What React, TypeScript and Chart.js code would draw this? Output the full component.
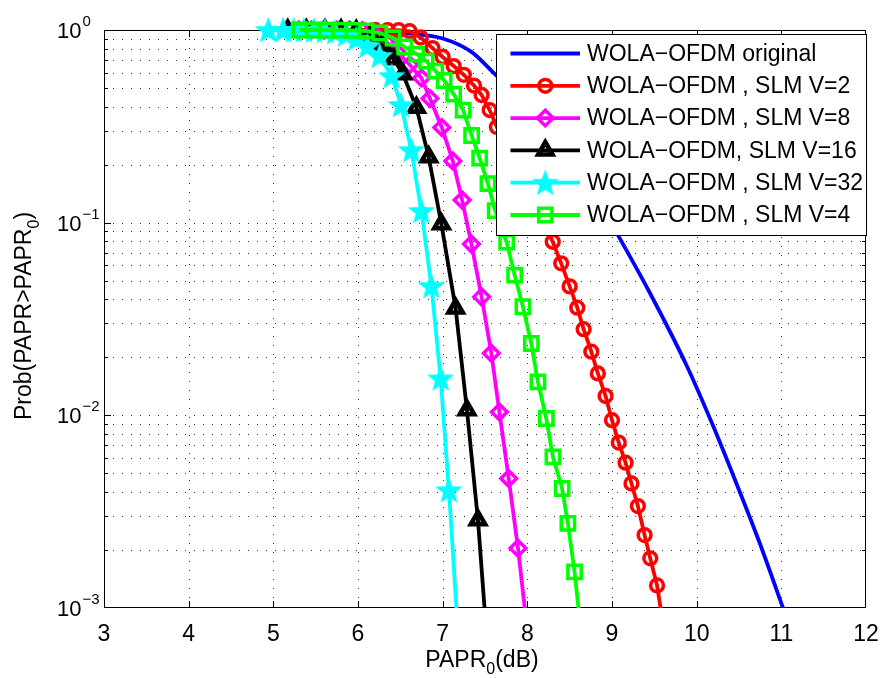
import React, { useEffect, useRef } from 'react';
import { Chart, registerables } from 'chart.js';

Chart.register(...registerables);

const FONT = "'Liberation Sans', Arial, Helvetica, sans-serif";

// ---------- axis ticks ----------
const X_TICKS = [3, 4, 5, 6, 7, 8, 9, 10, 11, 12];
const Y_TICKS = [1, 0.1, 0.01, 0.001];
const Y_TICK_EXP = ['0', '\u22121', '\u22122', '\u22123'];

// ---------- legend labels ----------
const LEGEND_LABELS = [
  'WOLA\u2212OFDM original',
  'WOLA\u2212OFDM , SLM V=2',
  'WOLA\u2212OFDM , SLM V=8',
  'WOLA\u2212OFDM, SLM V=16',
  'WOLA\u2212OFDM , SLM V=32',
  'WOLA\u2212OFDM , SLM V=4',
];

// ---------- series data (PAPR0 in dB, CCDF) ----------
const origX = [5.2, 5.6, 6.0, 6.49, 6.61, 7.0, 7.34, 7.59, 7.8, 8.0, 8.2, 8.4, 8.6, 8.8, 9.07, 9.44, 9.88, 10.19, 10.43, 10.74, 11.02, 11.2];
const origY = [1, 1, 0.99, 0.965, 0.957, 0.904, 0.77, 0.606, 0.49, 0.389, 0.305, 0.237, 0.182, 0.138, 0.0862, 0.0438, 0.0182, 0.0089, 0.0049, 0.0022, 0.001, 0.0006];

const v2X = [5.3, 5.45, 5.6, 5.75, 5.9, 6.05, 6.2, 6.35, 6.48, 6.61, 6.74, 6.88, 7.0, 7.13, 7.25, 7.37, 7.46, 7.555, 7.64, 7.73, 7.82, 7.91, 8.0, 8.09, 8.2, 8.3, 8.4, 8.5, 8.59, 8.665, 8.756, 8.833, 8.924, 9.0, 9.08, 9.16, 9.23, 9.306, 9.385, 9.452, 9.532, 9.61];
const v2Y = [1, 1, 1, 1, 1, 1, 1, 0.999, 0.997, 0.985, 0.914, 0.806, 0.724, 0.65, 0.585, 0.515, 0.46, 0.384, 0.314, 0.263, 0.219, 0.182, 0.151, 0.126, 0.1, 0.0796, 0.0615, 0.0467, 0.0362, 0.028, 0.0214, 0.0165, 0.0126, 0.00944, 0.00722, 0.00568, 0.00443, 0.00338, 0.00239, 0.00181, 0.00131, 0.00079];

const v8X = [5.3, 5.45, 5.6, 5.75, 5.9, 6.05, 6.19, 6.33, 6.47, 6.61, 6.75, 6.85, 6.99, 7.12, 7.23, 7.34, 7.46, 7.575, 7.67, 7.78, 7.89, 8.0];
const v8Y = [1, 1, 1, 1, 0.999, 0.99, 0.95, 0.87, 0.76, 0.66, 0.563, 0.441, 0.312, 0.209, 0.131, 0.0774, 0.0412, 0.021, 0.0104, 0.0047, 0.00204, 0.00076];

const v16X = [5.17, 5.39, 5.61, 5.8, 5.98, 6.15, 6.29, 6.42, 6.53, 6.69, 6.835, 6.985, 7.153, 7.287, 7.417, 7.54];
const v16Y = [1, 1, 1, 0.999, 0.99, 0.94, 0.836, 0.707, 0.591, 0.396, 0.219, 0.0983, 0.0359, 0.01064, 0.00286, 0.00054];

const v32X = [4.94, 5.115, 5.24, 5.36, 5.48, 5.61, 5.73, 5.86, 5.98, 6.11, 6.256, 6.398, 6.508, 6.63, 6.749, 6.867, 6.976, 7.074, 7.19];
const v32Y = [1, 1, 1, 0.999, 0.997, 0.99, 0.975, 0.95, 0.9, 0.826, 0.733, 0.577, 0.408, 0.238, 0.115, 0.0469, 0.01556, 0.00409, 0.00065];

const v4X = [5.313, 5.469, 5.627, 5.784, 5.941, 6.099, 6.256, 6.413, 6.551, 6.693, 6.805, 6.917, 7.018, 7.13, 7.242, 7.342, 7.437, 7.535, 7.62, 7.756, 7.85, 7.948, 8.047, 8.125, 8.224, 8.302, 8.411, 8.479, 8.558, 8.64];
const v4Y = [1, 1, 0.999, 0.998, 0.995, 0.988, 0.965, 0.909, 0.816, 0.75, 0.69, 0.612, 0.547, 0.465, 0.384, 0.2834, 0.2164, 0.1596, 0.1155, 0.0793, 0.0534, 0.0366, 0.0236, 0.01493, 0.00963, 0.00609, 0.00417, 0.00275, 0.00154, 0.00072];

// ---------- styles ----------
const LINE_W = 3.8;
const MARK_BW: Record<string, number> = { circle: 3.5, rectRot: 3.5, triangle: 4.6, rect: 3.5, star: 0 };
const COLORS = ['#0000ff', '#ff0000', '#ff00ff', '#000000', '#00ffff', '#00ff00'];
const MARKERS = ['none', 'circle', 'rectRot', 'triangle', 'star', 'rect'];
const MARK_R: Record<string, number> = { circle: 6.4, rectRot: 7.8, triangle: 8.2, rect: 9.4, star: 11 };

const pts = (xs: number[], ys: number[]) => xs.map((x, i) => ({ x, y: ys[i] }));

function makeStar(color: string) {
  const c = document.createElement('canvas');
  c.width = 28;
  c.height = 28;
  const g = c.getContext('2d')!;
  g.fillStyle = color;
  g.strokeStyle = color;
  g.lineWidth = 1.6;
  g.lineJoin = 'miter';
  g.beginPath();
  const R = 12, r = R * 0.42;
  for (let i = 0; i < 10; i++) {
    const ang = -Math.PI / 2 + (i * Math.PI) / 5;
    const rad = i % 2 === 0 ? R : r;
    const px = 14 + rad * Math.cos(ang);
    const py = 15 + rad * Math.sin(ang);
    if (i === 0) g.moveTo(px, py);
    else g.lineTo(px, py);
  }
  g.closePath();
  g.fill();
  g.stroke();
  return c;
}

function drawMarker(ctx: CanvasRenderingContext2D, kind: string, x: number, y: number, color: string, star: HTMLCanvasElement) {
  ctx.save();
  ctx.setLineDash([]);
  ctx.strokeStyle = color;
  ctx.lineWidth = MARK_BW[kind];
  ctx.beginPath();
  if (kind === 'circle') {
    ctx.arc(x, y, MARK_R.circle, 0, Math.PI * 2);
    ctx.stroke();
  } else if (kind === 'rectRot') {
    const r = MARK_R.rectRot;
    ctx.moveTo(x - r, y);
    ctx.lineTo(x, y - r);
    ctx.lineTo(x + r, y);
    ctx.lineTo(x, y + r);
    ctx.closePath();
    ctx.stroke();
  } else if (kind === 'triangle') {
    const r = MARK_R.triangle;
    const s = Math.sin((2 * Math.PI) / 3) * r;
    ctx.moveTo(x, y - r);
    ctx.lineTo(x + s, y + r / 2);
    ctx.lineTo(x - s, y + r / 2);
    ctx.closePath();
    ctx.stroke();
  } else if (kind === 'rect') {
    const s = Math.SQRT1_2 * MARK_R.rect;
    ctx.rect(x - s, y - s, 2 * s, 2 * s);
    ctx.stroke();
  } else if (kind === 'star') {
    ctx.drawImage(star, x - star.width / 2, y - star.height / 2);
  }
  ctx.restore();
}

function minorValues() {
  const out: { v: number; major: boolean }[] = [];
  for (let e = -3; e <= -1; e++) {
    for (let k = 1; k <= 9; k++) {
      const v = k * Math.pow(10, e);
      if (e === -3 && k === 1) continue;
      out.push({ v, major: k === 1 });
    }
  }
  return out;
}

function drawParts(ctx: CanvasRenderingContext2D, parts: { t: string; size: number; dy: number }[], cx: number, baseY: number) {
  let total = 0;
  for (const p of parts) {
    ctx.font = `${p.size}px ${FONT}`;
    total += ctx.measureText(p.t).width;
  }
  let x = cx - total / 2;
  for (const p of parts) {
    ctx.font = `${p.size}px ${FONT}`;
    ctx.fillText(p.t, x, baseY + p.dy);
    x += ctx.measureText(p.t).width;
  }
}

export default function App() {
  const ref = useRef<HTMLCanvasElement>(null);

  useEffect(() => {
    const star = makeStar(COLORS[4]);

    const matlabPlugin = {
      id: 'matlabLook',
      beforeDatasetsDraw(chart: any) {
        const { ctx, chartArea: a, scales } = chart;
        const xs = scales.x;
        const ys = scales.y;
        ctx.save();
        // dotted grid
        ctx.strokeStyle = '#333333';
        ctx.lineWidth = 1;
        ctx.setLineDash([1, 8]);
        for (const v of X_TICKS) {
          if (v <= 3 || v >= 12) continue;
          const px = Math.round(xs.getPixelForValue(v)) + 0.5;
          ctx.beginPath();
          ctx.moveTo(px, a.top);
          ctx.lineTo(px, a.bottom);
          ctx.stroke();
        }
        for (const m of minorValues()) {
          const py = Math.round(ys.getPixelForValue(m.v)) + 0.5;
          ctx.beginPath();
          ctx.moveTo(a.left, py);
          ctx.lineTo(a.right, py);
          ctx.stroke();
        }
        ctx.setLineDash([]);
        // ticks (inward)
        ctx.strokeStyle = '#000';
        ctx.beginPath();
        for (const v of X_TICKS) {
          if (v <= 3 || v >= 12) continue;
          const px = Math.round(xs.getPixelForValue(v)) + 0.5;
          ctx.moveTo(px, a.bottom);
          ctx.lineTo(px, a.bottom - 7);
          ctx.moveTo(px, a.top);
          ctx.lineTo(px, a.top + 7);
        }
        for (const m of minorValues()) {
          const py = Math.round(ys.getPixelForValue(m.v)) + 0.5;
          const len = m.major ? 7 : 4;
          ctx.moveTo(a.left, py);
          ctx.lineTo(a.left + len, py);
          ctx.moveTo(a.right, py);
          ctx.lineTo(a.right - len, py);
        }
        ctx.stroke();
        // box
        ctx.lineWidth = 1;
        ctx.strokeRect(a.left + 0.5, a.top + 0.5, a.right - a.left - 1, a.bottom - a.top - 1);
        ctx.restore();
      },
      afterDatasetsDraw(chart: any) {
        const { ctx, chartArea: a } = chart;
        ctx.save();
        const bx0 = 496.5;
        const by0 = a.top + 4.5;
        const bx1 = a.right + 0.5;
        const by1 = 235.5;
        ctx.fillStyle = '#ffffff';
        ctx.fillRect(bx0, by0, bx1 - bx0, by1 - by0);
        ctx.strokeStyle = '#000';
        ctx.lineWidth = 1;
        ctx.strokeRect(bx0, by0, bx1 - bx0, by1 - by0);
        const rowY0 = 53.5;
        const rowStep = 32.3;
        for (let i = 0; i < LEGEND_LABELS.length; i++) {
          const y = rowY0 + i * rowStep;
          ctx.strokeStyle = COLORS[i];
          ctx.lineWidth = LINE_W;
          ctx.beginPath();
          ctx.moveTo(510.5, y);
          ctx.lineTo(580, y);
          ctx.stroke();
          if (MARKERS[i] !== 'none') drawMarker(ctx, MARKERS[i], 545.3, y, COLORS[i], star);
          ctx.fillStyle = '#000';
          ctx.font = `23px ${FONT}`;
          ctx.textBaseline = 'middle';
          ctx.textAlign = 'left';
          ctx.fillText(LEGEND_LABELS[i], 587, y + 1);
        }
        ctx.restore();
      },
      afterDraw(chart: any) {
        const { ctx, chartArea: a, scales } = chart;
        const ys = scales.y;
        ctx.save();
        ctx.fillStyle = '#000';
        ctx.textAlign = 'left';
        ctx.textBaseline = 'alphabetic';
        // y tick labels 10^n
        Y_TICKS.forEach((v, i) => {
          const py = ys.getPixelForValue(v);
          ctx.font = `22px ${FONT}`;
          ctx.fillText('10', 57, py + 8);
          const w = ctx.measureText('10').width;
          ctx.font = `15px ${FONT}`;
          ctx.fillText(Y_TICK_EXP[i], 57 + w + 1, py - 4);
        });
        // x title
        drawParts(
          ctx,
          [
            { t: 'PAPR', size: 23, dy: 0 },
            { t: '0', size: 16, dy: 7 },
            { t: '(dB)', size: 23, dy: 0 },
          ],
          (a.left + a.right) / 2 - 3,
          667
        );
        // y title
        ctx.translate(31, (a.top + a.bottom) / 2 - 3);
        ctx.rotate(-Math.PI / 2);
        drawParts(
          ctx,
          [
            { t: 'Prob(PAPR>PAPR', size: 23, dy: 0 },
            { t: '0', size: 16, dy: 8 },
            { t: ')', size: 23, dy: 0 },
          ],
          0,
          0
        );
        ctx.restore();
      },
    };

    const clip = { left: false, top: false, right: 0, bottom: 0 } as any;
    const mk = (i: number, xs: number[], ys: number[], order: number) => {
      const kind = MARKERS[i];
      const base: any = {
        label: LEGEND_LABELS[i],
        data: pts(xs, ys),
        borderColor: COLORS[i],
        backgroundColor: COLORS[i],
        borderWidth: LINE_W,
        tension: 0,
        clip,
        order,
        fill: false,
      };
      if (kind === 'none') {
        base.pointRadius = 0;
        base.cubicInterpolationMode = 'monotone';
      } else {
        base.pointStyle = kind === 'star' ? star : kind;
        base.pointRadius = MARK_R[kind];
        base.pointHoverRadius = MARK_R[kind];
        base.pointBorderWidth = MARK_BW[kind];
        base.pointBorderColor = COLORS[i];
        base.pointBackgroundColor = 'rgba(0,0,0,0)';
      }
      return base;
    };

    const chart = new Chart(ref.current!, {
      type: 'line',
      data: {
        datasets: [
          mk(0, origX, origY, 6),
          mk(1, v2X, v2Y, 5),
          mk(2, v8X, v8Y, 4),
          mk(3, v16X, v16Y, 3),
          mk(4, v32X, v32Y, 2),
          mk(5, v4X, v4Y, 1),
        ],
      },
      options: {
        animation: false,
        responsive: false,
        devicePixelRatio: 1,
        events: [],
        layout: { padding: { left: 0, top: 30, right: 15, bottom: 0 } },
        plugins: {
          legend: { display: false },
          tooltip: { enabled: false },
          title: { display: false },
        },
        scales: {
          x: {
            type: 'linear',
            min: 3,
            max: 12,
            grid: { display: false },
            border: { display: false },
            ticks: {
              stepSize: 1,
              autoSkip: false,
              maxRotation: 0,
              padding: 5,
              color: '#000',
              font: { family: FONT, size: 23 },
            },
            afterFit: (s: any) => {
              s.height = 70;
              s.paddingLeft = 0;
              s.paddingRight = 0;
            },
          },
          y: {
            type: 'logarithmic',
            min: 0.001,
            max: 1,
            grid: { display: false },
            border: { display: false },
            ticks: { display: false },
            afterFit: (s: any) => {
              s.width = 104;
              s.paddingTop = 0;
              s.paddingBottom = 0;
            },
          },
        },
      },
      plugins: [matlabPlugin],
    } as any);

    return () => chart.destroy();
  }, []);

  return (
    <div style={{ position: 'fixed', left: 0, top: 0, width: 881, height: 678, background: '#fff' }}>
      <canvas ref={ref} width={881} height={678} style={{ display: 'block' }} />
    </div>
  );
}
